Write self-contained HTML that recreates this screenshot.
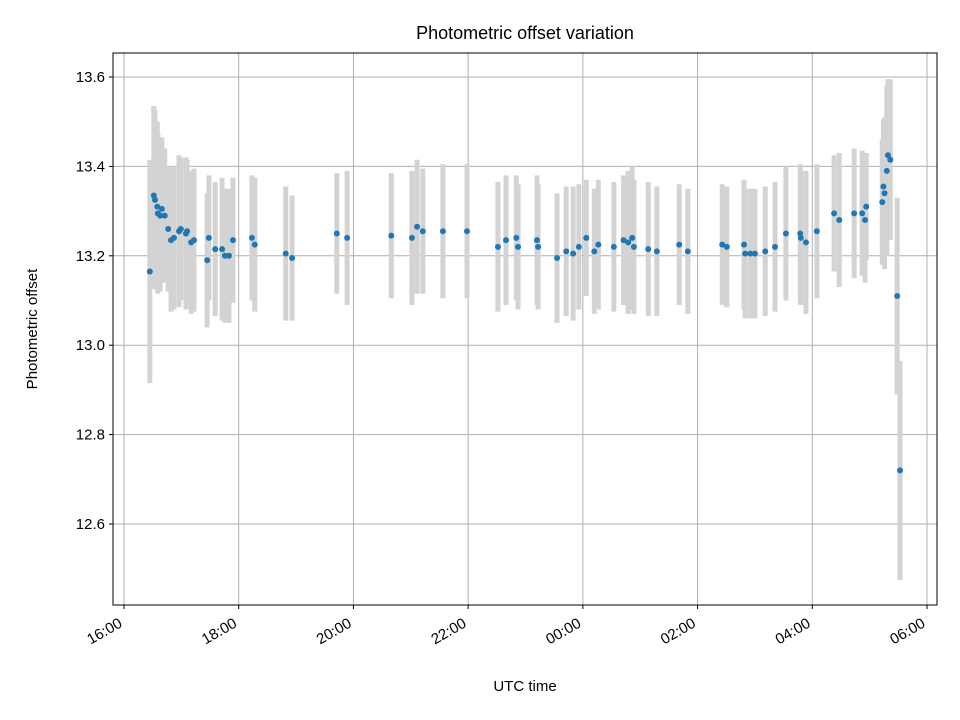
<!DOCTYPE html>
<html><head><meta charset="utf-8"><style>
body{margin:0;background:#fff}
svg{display:block;font-family:"Liberation Sans","DejaVu Sans",sans-serif}
</style></head><body>
<svg id="chart" width="960" height="720" xmlns="http://www.w3.org/2000/svg">
<rect width="960" height="720" fill="#fff"/>
<g id="grid"></g><g id="errs"></g><g id="pts"></g><g id="axes"></g>
</svg>
<script>
// hours after 16:00 UTC
const times=[0.45,0.52,0.54,0.58,0.59,0.63,0.66,0.71,0.77,0.82,0.87,0.96,0.99,1.08,1.10,1.17,1.22,1.45,1.48,1.59,1.71,1.76,1.83,1.90,2.23,2.28,2.82,2.93,3.71,3.89,4.66,5.02,5.11,5.21,5.56,5.98,6.52,6.66,6.84,6.87,7.20,7.22,7.55,7.71,7.83,7.93,8.06,8.20,8.27,8.54,8.71,8.79,8.86,8.89,9.14,9.29,9.68,9.83,10.43,10.51,10.81,10.83,10.92,11.00,11.18,11.35,11.54,11.79,11.80,11.89,12.08,12.38,12.47,12.73,12.87,12.92,12.94,13.22,13.24,13.26,13.30,13.32,13.36,13.48,13.53];
const offsets=[13.165,13.335,13.325,13.31,13.295,13.29,13.305,13.29,13.26,13.235,13.24,13.255,13.26,13.25,13.255,13.23,13.235,13.19,13.24,13.215,13.215,13.20,13.20,13.235,13.24,13.225,13.205,13.195,13.25,13.24,13.245,13.24,13.265,13.255,13.255,13.255,13.22,13.235,13.24,13.22,13.235,13.22,13.195,13.21,13.205,13.22,13.24,13.21,13.225,13.22,13.235,13.23,13.24,13.22,13.215,13.21,13.225,13.21,13.225,13.22,13.225,13.205,13.205,13.205,13.21,13.22,13.25,13.25,13.24,13.23,13.255,13.295,13.28,13.295,13.295,13.28,13.31,13.32,13.355,13.34,13.39,13.425,13.415,13.11,12.72];
const errors=[0.25,0.2,0.2,0.19,0.18,0.17,0.16,0.15,0.14,0.16,0.16,0.17,0.16,0.17,0.16,0.16,0.16,0.15,0.14,0.15,0.16,0.15,0.15,0.14,0.14,0.15,0.15,0.14,0.135,0.15,0.14,0.15,0.15,0.14,0.15,0.15,0.145,0.145,0.14,0.14,0.145,0.14,0.145,0.145,0.15,0.14,0.13,0.14,0.145,0.145,0.145,0.16,0.16,0.15,0.15,0.145,0.135,0.14,0.135,0.135,0.145,0.145,0.145,0.145,0.145,0.145,0.15,0.155,0.15,0.16,0.15,0.13,0.15,0.145,0.14,0.14,0.12,0.14,0.15,0.17,0.19,0.17,0.18,0.22,0.245];
const xTicks=[0,2,4,6,8,10,12,14];
const xTickLabels=["16:00","18:00","20:00","22:00","00:00","02:00","04:00","06:00"];
const yTicks=[12.6,12.8,13.0,13.2,13.4,13.6];
const yTickLabels=["12.6","12.8","13.0","13.2","13.4","13.6"];

const L=113,R=937,T=53,B=605;
const x=h=>124+(h)*57.357;
const y=v=>77+(13.6-v)*447;
const NS="http://www.w3.org/2000/svg";
function mk(parent,tag,attrs){const e=document.createElementNS(NS,tag);for(const k in attrs)e.setAttribute(k,attrs[k]);document.getElementById(parent).appendChild(e);return e;}

xTicks.forEach((t,i)=>{
  const g=mk('grid','line',{x1:x(t),x2:x(t),y1:T,y2:B,stroke:'#b0b0b0','stroke-width':1});
  
  
  const tk=mk('axes','line',{x1:x(t),x2:x(t),y1:B,y2:B+4,stroke:'#000','stroke-width':1});
  
  
  const ax=x(t)-6, ay=B+12;
  const tx=mk('axes','text',{x:ax,y:ay,'font-size':15,'text-anchor':'end','dominant-baseline':'hanging',transform:`rotate(-30 ${ax} ${ay})`});
  tx.textContent=xTickLabels[i];
  
  
});
yTicks.forEach((t,i)=>{
  const g=mk('grid','line',{x1:L,x2:R,y1:y(t),y2:y(t),stroke:'#b0b0b0','stroke-width':1});
  
  
  const tk=mk('axes','line',{x1:L-4,x2:L,y1:y(t),y2:y(t),stroke:'#000','stroke-width':1});
  
  
  const tx=mk('axes','text',{x:L-8,y:y(t)+5,'font-size':15,'text-anchor':'end'});
  tx.textContent=yTickLabels[i];
  
  
});
times.forEach((t,i)=>{
  const e=mk('errs','line',{x1:x(t),x2:x(t),y1:y(offsets[i]+errors[i]),y2:y(offsets[i]-errors[i]),stroke:'#d3d3d3','stroke-width':5});
  
  
  const p=mk('pts','circle',{cx:x(t),cy:y(offsets[i]),r:3,fill:'#1f77b4'});
  
  
});
const fr=mk('axes','rect',{x:L,y:T,width:R-L,height:B-T,fill:'none',stroke:'#000','stroke-width':1});


const ti=mk('axes','text',{x:525,y:39,'font-size':18,'text-anchor':'middle'});
ti.textContent='Photometric offset variation';


const xl=mk('axes','text',{x:525,y:691,'font-size':15,'text-anchor':'middle'});
xl.textContent='UTC time';


const yl=mk('axes','text',{x:37,y:329,'font-size':15,'text-anchor':'middle',transform:'rotate(-90 37 329)'});
yl.textContent='Photometric offset';


</script>
</body></html>
